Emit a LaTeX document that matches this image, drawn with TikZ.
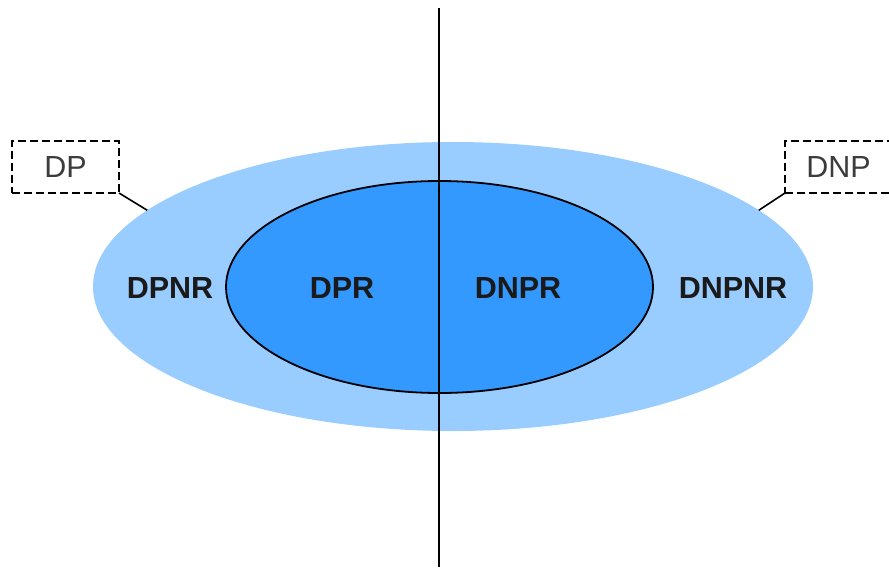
\documentclass[tikz,border=0pt]{standalone}
\usepackage{fontspec}
\setmainfont{Liberation Sans}
\usetikzlibrary{shapes.geometric}
\definecolor{outerblue}{HTML}{99CCFF}
\definecolor{innerblue}{HTML}{3399FF}
\definecolor{ink}{HTML}{1A1A1A}
\begin{document}
\begin{tikzpicture}[x=1pt,y=-1pt,
  region/.style={ellipse,inner sep=0pt,outer sep=0pt},
  zone/.style={font=\fontsize{30.5}{36}\selectfont\bfseries,text=ink,inner sep=0pt},
  callout/.style={draw=black,line width=1.6pt,dash pattern=on 8pt off 4pt,
    minimum width=107pt,minimum height=52pt,inner sep=0pt,outer sep=0pt,
    font=\fontsize{30.5}{36}\selectfont,text=ink!85},
  leader/.style={draw=black,line width=1.6pt},
  axis/.style={draw=black,line width=2pt}]
  \useasboundingbox (0,0) rectangle (889,570);
  \begin{scope}
    \clip (0,0) rectangle (889,570);
    % outer and inner regions
    \node[region,fill=outerblue,minimum width=720pt,minimum height=289pt] (outer) at (453,286.5) {};
    \node[region,fill=innerblue,draw=black,line width=1.8pt,minimum width=427pt,minimum height=212pt] (inner) at (439.5,287) {};
    % dividing axis
    \coordinate (top) at (439,8);
    \coordinate (bottom) at (439,567);
    \draw[axis] (top) -- (bottom);
    % region labels
    \node[zone] (dpnr) at (170,288) {DPNR};
    \node[zone] (dpr) at (342,288) {DPR};
    \node[zone] (dnpr) at (518,288) {DNPR};
    \node[zone] (dnpnr) at (733,288) {DNPNR};
    % callouts
    \node[callout] (dp) at (65.5,167) {DP};
    \node[callout] (dnp) at (838.5,167) {DNP};
    \draw[leader] (dp.south east) -- (outer.166.2);
    \draw[leader] (dnp.south west) -- (outer.14.2);
  \end{scope}
\end{tikzpicture}
\end{document}
